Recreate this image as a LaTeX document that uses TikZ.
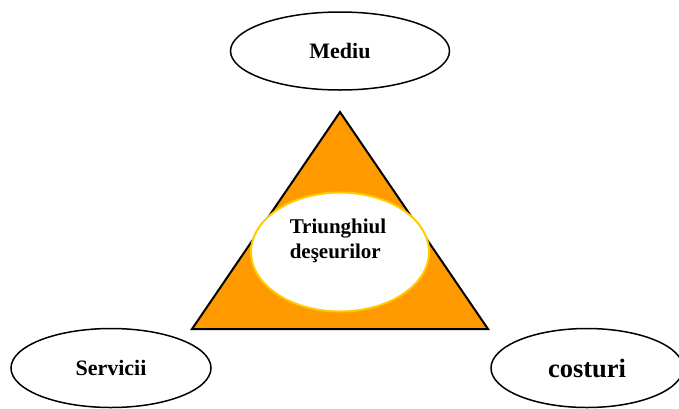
\documentclass[tikz,border=0pt]{standalone}
\usepackage{fontspec}
\setmainfont{Liberation Serif}
\usetikzlibrary{shapes.geometric}
\definecolor{portocaliu}{RGB}{255,153,0}
\definecolor{galben}{RGB}{255,204,0}
\begin{document}
\begin{tikzpicture}[x=1pt,y=-1pt,
    elipsa/.style={draw,ellipse,line width=1.5pt,fill=white,inner sep=0pt,
      font=\fontsize{22}{26}\selectfont\bfseries},
    centru/.style={draw=galben,ellipse,line width=2pt,fill=white,inner sep=0pt}]
      \useasboundingbox (0,0) rectangle (679,408);
      \draw[line width=2pt,fill=portocaliu,line join=miter] (192,329) -- (340,112) -- (488,329) -- cycle;
      \node[centru,minimum width=178pt,minimum height=119pt] (miez) at (340,252) {};
      \node[align=left,font=\fontsize{21}{25}\selectfont\bfseries] (titlu) at (338,241) {Triunghiul\\de\c{s}eurilor};
      \node[elipsa,minimum width=219pt,minimum height=78pt] (mediu) at (340,51) {Mediu};
      \node[elipsa,minimum width=200pt,minimum height=79pt] (servicii) at (111,368) {Servicii};
      \node[elipsa,minimum width=192pt,minimum height=79pt,font=\fontsize{26.5}{30}\selectfont\bfseries] (costuri) at (587,368) {costuri};
    \end{tikzpicture}
\end{document}
